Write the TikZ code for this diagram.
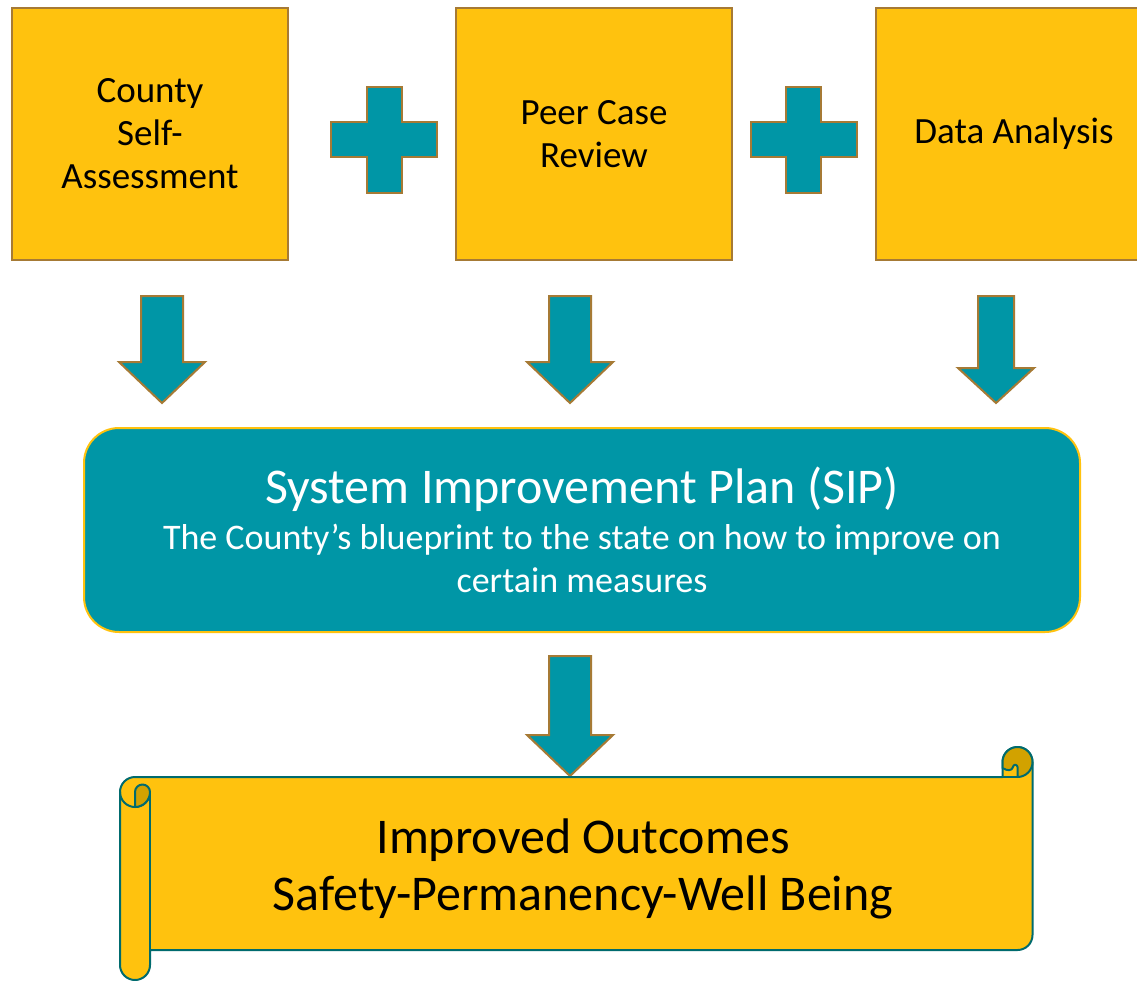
\documentclass[tikz,border=0pt]{standalone}
\usepackage{fontspec}
\setmainfont{Carlito}
\definecolor{gold}{HTML}{FFC20E}
\definecolor{brownline}{HTML}{A67A35}
\definecolor{tealfill}{HTML}{0096A6}
\definecolor{scrollline}{HTML}{006B6E}
\definecolor{curl}{HTML}{D2A200}
\tikzset{
  inbox/.style={draw=brownline, fill=gold, line width=2pt, minimum width=276pt,
    minimum height=252pt, align=center, inner sep=0pt,
    font=\fontsize{37}{43}\selectfont},
  blockshape/.style={draw=brownline, fill=tealfill, line width=2pt, line join=miter},
  sipbox/.style={draw=gold, fill=tealfill, line width=2pt, rounded corners=35pt,
    minimum width=996pt, minimum height=204pt, text width=990pt, align=center,
    text=white, inner sep=0pt},
  scrollshape/.style={draw=scrollline, fill=gold, line width=2pt, line join=round},
  curlshape/.style={draw=scrollline, fill=curl, line width=2pt, line join=round},
  scrolltext/.style={align=center, inner sep=0pt, font=\fontsize{50}{57}\selectfont},
}
\newcommand\downblock[6]{% x, top, headbase, tip, halfshaft, halfhead
  \path[blockshape] (#1-#5,#2) -- (#1+#5,#2) -- (#1+#5,#3) -- (#1+#6,#3) -- (#1,#4)
    -- (#1-#6,#3) -- (#1-#5,#3) -- cycle;}
\newcommand\plusblock[2]{%
  \path[blockshape] (#1-17.5,#2-53) -- (#1+17.5,#2-53) -- (#1+17.5,#2-17.5)
    -- (#1+53,#2-17.5) -- (#1+53,#2+17.5) -- (#1+17.5,#2+17.5) -- (#1+17.5,#2+53)
    -- (#1-17.5,#2+53) -- (#1-17.5,#2+17.5) -- (#1-53,#2+17.5) -- (#1-53,#2-17.5)
    -- (#1-17.5,#2-17.5) -- cycle;}
\begin{document}
\begin{tikzpicture}[x=1pt, y=-1pt]
  \fill[white] (0,0) rectangle (1137,980);
  \useasboundingbox (0,0) rectangle (1137,980);

  % top boxes
  \node[inbox] (b1) at (150,134) {County\\Self-\\Assessment};
  \node[inbox] (b2) at (594,134) {Peer Case\\Review};
  \node[inbox] (b3) at (1014,134) {Data Analysis};

  % plus signs
  \plusblock{384}{139.5}
  \plusblock{803.5}{139.5}

  % down arrows
  \downblock{162}{296}{362}{403}{21}{43}
  \downblock{570}{296}{362}{403}{21}{43}
  \downblock{996}{296}{368}{403}{18}{38}

  % SIP box
  \node[sipbox] (sip) at (582,530) {\spaceskip=0pt\xspaceskip=0pt
    \leftskip=0pt plus 1fil\rightskip=0pt plus 1fil\parfillskip=0pt
    \fontsize{50}{54}\selectfont System Improvement Plan (SIP)\par
    \vspace{3pt}\fontsize{36}{43}\selectfont The County’s blueprint to the state on how to improve on\\
    certain measures\par};

  \downblock{570}{656}{735}{776}{21}{43}

  % scroll
  \path[scrollshape] (135,777) -- (1002.5,777) -- (1002.5,762)
    arc[start angle=180, end angle=360, radius=15] -- (1032.5,935)
    arc[start angle=0, end angle=90, radius=15] -- (150,950) -- (150,965)
    arc[start angle=0, end angle=180, radius=15] -- (120,792)
    arc[start angle=180, end angle=270, radius=15] -- cycle;
  % left roll details
  \draw[draw=scrollline, line width=2pt] (150,792) -- (150,950);
  \draw[draw=scrollline, line width=2pt] (120,792) arc[start angle=180, end angle=0, radius=15];
  \path[curlshape] (135,807) -- (135,792) arc[start angle=180, end angle=360, radius=7.5]
    arc[start angle=0, end angle=90, radius=15] -- cycle;
  % right roll details
  \path[curlshape] (1017.5,777) arc[start angle=90, end angle=0, radius=15]
    arc[start angle=0, end angle=-180, radius=15] -- (1002.5,768)
    .. controls (1007,771) and (1012,771) .. (1013,767)
    arc[start angle=180, end angle=360, radius=2.25] -- (1017.5,777) -- cycle;
  \draw[draw=scrollline, line width=2pt] (1002.5,777) -- (1017.5,777);

  \node[scrolltext] (out) at (583,869) {Improved Outcomes\\Safety-Permanency-Well Being};
\end{tikzpicture}
\end{document}
